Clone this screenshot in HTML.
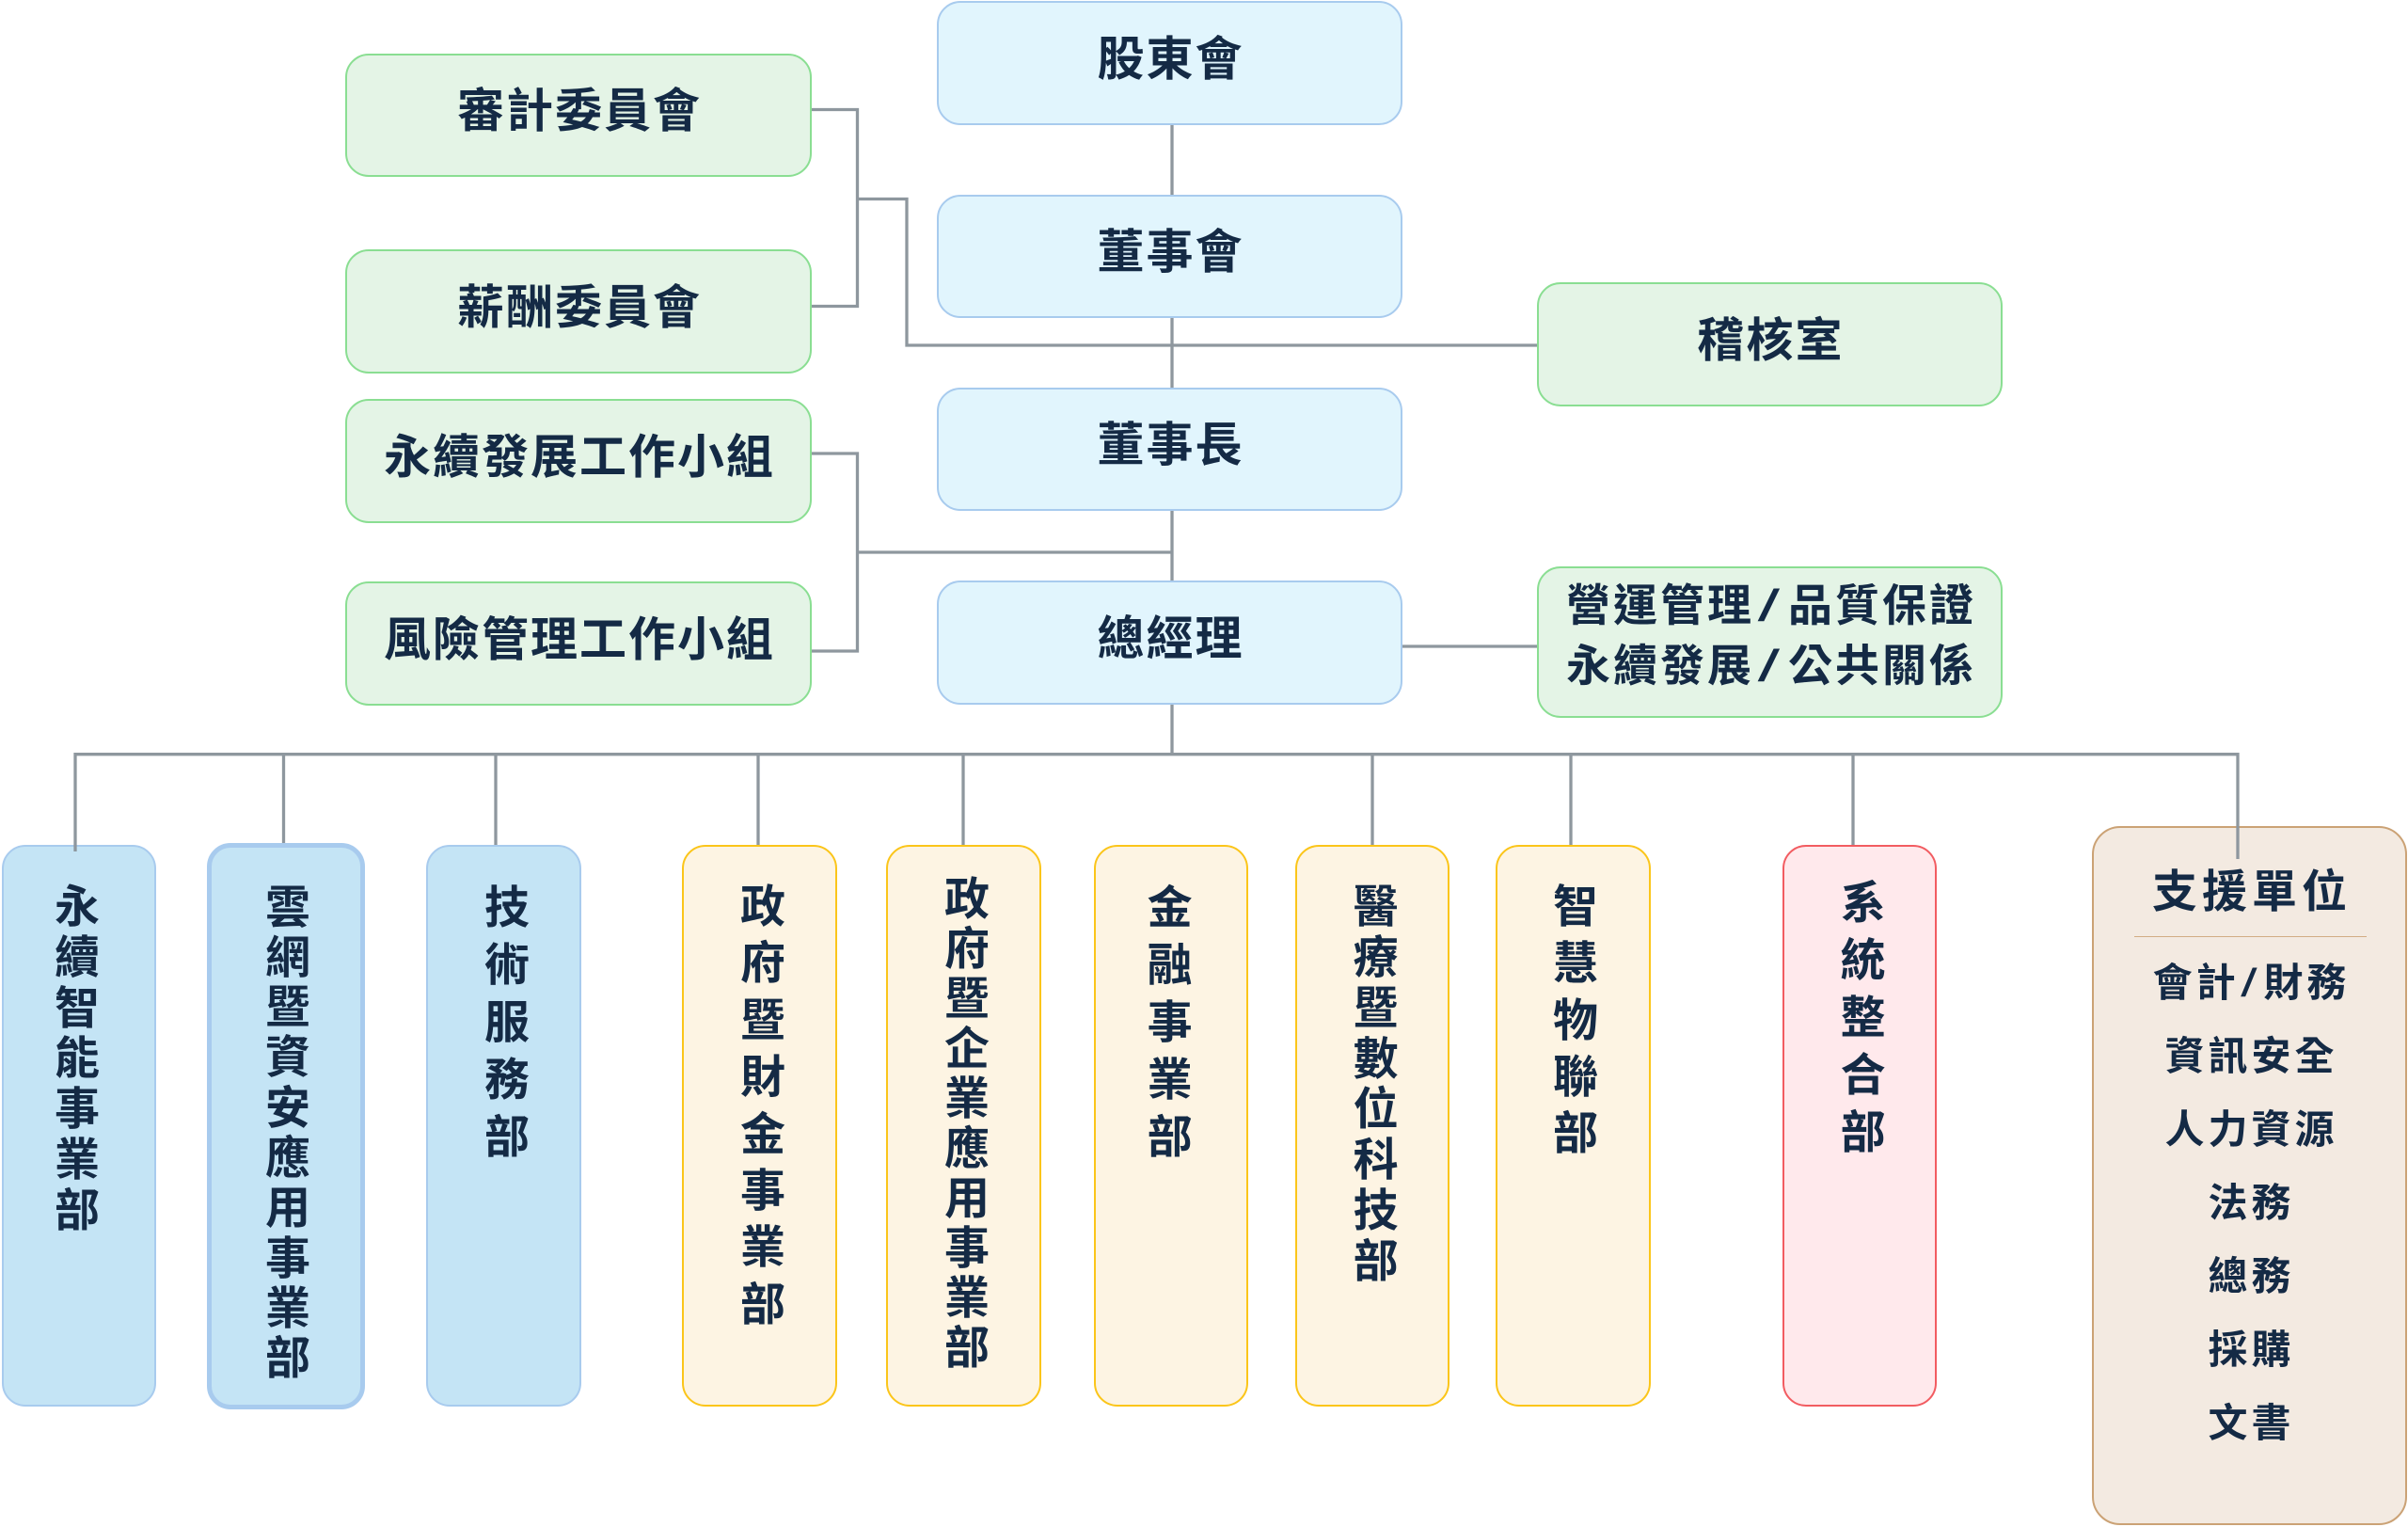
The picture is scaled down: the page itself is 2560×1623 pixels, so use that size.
<!DOCTYPE html>
<html>
<head>
<meta charset="utf-8">
<style>
html,body{margin:0;padding:0;background:#ffffff;}
body{width:2560px;height:1623px;position:relative;overflow:hidden;
  font-family:"Liberation Sans","Noto Sans CJK TC","Noto Sans CJK SC",sans-serif;font-weight:bold;color:#142a45;}
.box{position:absolute;box-sizing:border-box;border-width:2px;border-style:solid;border-radius:25px;
  display:flex;align-items:center;justify-content:center;padding-bottom:9px;
  font-size:50px;letter-spacing:2px;line-height:60px;white-space:nowrap;padding-left:2px;}
.bot{position:absolute;box-sizing:border-box;border-width:2px;border-style:solid;border-radius:25px;}
.c{background:#e1f5fd;border-color:#a8cbee;}
.g{background:#e4f4e6;border-color:#8ade92;}
.b{background:#c4e4f5;border-color:#a8cbee;}
.y{background:#fdf4e3;border-color:#fbc51a;}
.p{background:#ffe9ec;border-color:#f25c61;}
.t{background:#f3eae1;border-color:#cba275;border-radius:30px;}
.vt{position:absolute;width:52px;font-size:48px;text-align:center;word-break:break-all;}
.sl{display:inline-block;font-weight:normal;transform:scaleX(1.8);margin:0 10px;}
</style>
</head>
<body>

<!-- top / center boxes -->
<div class="box c" style="left:996px;top:1px;width:495px;height:132px;">股東會</div>
<div class="box c" style="left:996px;top:207px;width:495px;height:131px;">董事會</div>
<div class="box c" style="left:996px;top:412px;width:495px;height:131px;">董事長</div>
<div class="box c" style="left:996px;top:617px;width:495px;height:132px;">總經理</div>

<div class="box g" style="left:367px;top:57px;width:496px;height:131px;">審計委員會</div>
<div class="box g" style="left:367px;top:265px;width:496px;height:132px;">薪酬委員會</div>
<div class="box g" style="left:367px;top:424px;width:496px;height:132px;">永續發展工作小組</div>
<div class="box g" style="left:367px;top:618px;width:496px;height:132px;">風險管理工作小組</div>

<div class="box g" style="left:1634px;top:300px;width:495px;height:132px;">稽核室</div>
<div class="box g" style="left:1634px;top:602px;width:495px;height:161px;font-size:47px;letter-spacing:3px;line-height:64px;padding-bottom:14px;padding-left:3px;"><div style="text-align:center;">營運管理<span class="sl">/</span>品質保證<br>永續發展<span class="sl">/</span>公共關係</div></div>

<!-- bottom boxes -->
<div class="bot b" style="left:2px;top:898px;width:164px;height:597px;"></div>
<div class="bot b" style="left:220px;top:896px;width:168px;height:602px;border-width:5px;"></div>
<div class="bot b" style="left:453px;top:898px;width:165px;height:597px;"></div>
<div class="bot y" style="left:725px;top:898px;width:165px;height:597px;"></div>
<div class="bot y" style="left:942px;top:898px;width:165px;height:597px;"></div>
<div class="bot y" style="left:1163px;top:898px;width:164px;height:597px;"></div>
<div class="bot y" style="left:1377px;top:898px;width:164px;height:597px;"></div>
<div class="bot y" style="left:1590px;top:898px;width:165px;height:597px;"></div>
<div class="bot p" style="left:1895px;top:898px;width:164px;height:597px;"></div>
<div class="bot t" style="left:2224px;top:878px;width:335px;height:743px;"></div>

<!-- vertical texts -->
<div class="vt" style="left:56px;top:938px;line-height:53.75px;">永續智能事業部</div>
<div class="vt" style="left:280px;top:938.5px;line-height:53.3px;">雲網暨資安應用事業部</div>
<div class="vt" style="left:513px;top:934.7px;line-height:61px;">技術服務部</div>
<div class="vt" style="left:785px;top:935px;line-height:60.4px;">政府暨財金事業部</div>
<div class="vt" style="left:1002px;top:929.6px;line-height:53.1px;">政府暨企業應用事業部</div>
<div class="vt" style="left:1217.6px;top:934.7px;line-height:61px;">金融事業部</div>
<div class="vt" style="left:1436.6px;top:938.3px;line-height:53.8px;">醫療暨數位科技部</div>
<div class="vt" style="left:1649px;top:935px;line-height:60.3px;">智慧物聯部</div>
<div class="vt" style="left:1954.7px;top:929.7px;line-height:61px;">系統整合部</div>

<!-- support unit text -->
<div style="position:absolute;left:2224px;top:919px;width:335px;text-align:center;font-size:48px;line-height:60px;letter-spacing:5px;padding-left:5px;box-sizing:border-box;">支援單位</div>
<div style="position:absolute;left:2269px;top:994.5px;width:247px;height:1px;background:#d2ad84;"></div>
<div style="position:absolute;left:2224px;top:1005.5px;width:335px;text-align:center;font-size:42px;line-height:78px;letter-spacing:4px;padding-left:4px;box-sizing:border-box;">
會計<span style="display:inline-block;font-weight:normal;transform:scaleX(1.5);margin:0 5px;">/</span>財務<br>資訊安全<br>人力資源<br>法務<br>總務<br>採購<br>文書
</div>

<!-- connectors -->
<svg width="2560" height="1623" style="position:absolute;left:0;top:0;" xmlns="http://www.w3.org/2000/svg">
<g fill="none" stroke="#8e979e" stroke-width="3.3">
<path d="M1246 133 V207 M1246 338 V412 M1246 543 V617 M1246 749 V801.7"/>
<path d="M863 116.5 H911.5 V325.5 H863"/>
<path d="M911.5 211.5 H964 V367 H1634"/>
<path d="M863 482 H911.5 V692 H863"/>
<path d="M911.5 587 H1246"/>
<path d="M1491 687 H1634"/>
<path d="M80 905 V801.7 H2379 V913"/>
<path d="M301.5 801.7 V896 M527 801.7 V898 M806 801.7 V898 M1024 801.7 V898 M1459 801.7 V898 M1670 801.7 V898 M1970 801.7 V898"/>
</g>
</svg>

</body>
</html>
